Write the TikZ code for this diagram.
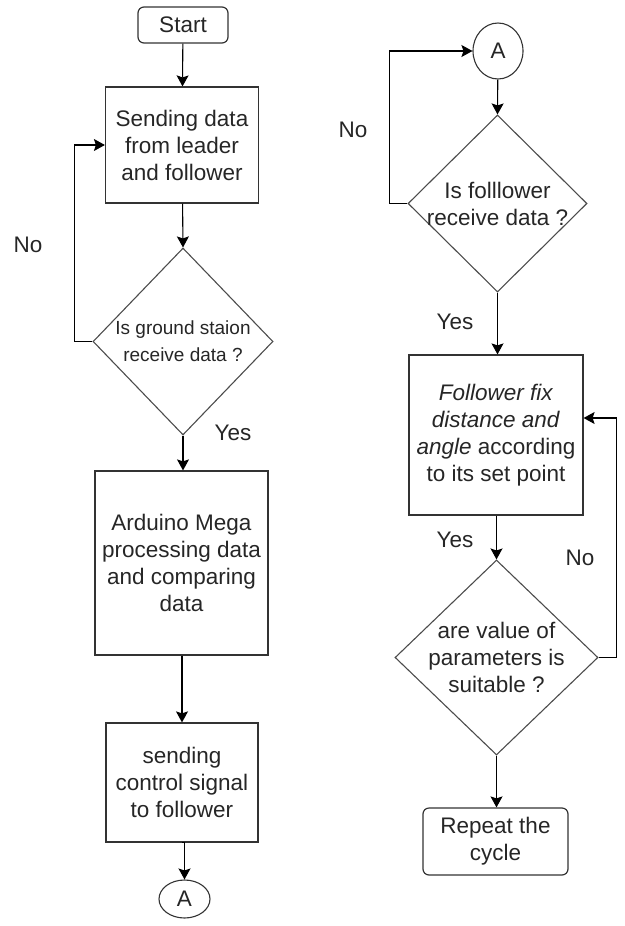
\documentclass[tikz,border=0pt]{standalone}
\usepackage{fontspec}
\setmainfont{Liberation Sans}
\usetikzlibrary{positioning, shapes.geometric, arrows.meta}

\tikzset{
    txt/.style={font=\fontsize{22.5}{27}\selectfont, text=black!85},
    proc/.style={draw=black!80, line width=1.2pt, rectangle, align=center, txt},
    term/.style={proc, rounded corners=6pt},
    conn/.style={draw=black!80, line width=1.1pt, ellipse, inner sep=0pt, txt},
    decision/.style={draw=black!70, line width=1.1pt, diamond, inner sep=0pt},
    dectext/.style={align=center, txt},
    flow/.style={line width=1.1pt, -{Stealth[length=11pt,width=12pt,inset=2pt]}},
}

\begin{document}
\begin{tikzpicture}[x=1pt, y=-1pt]
            \useasboundingbox (0,0) rectangle (624,926);

            % left column
            \node[term, minimum width=90, minimum height=36] (start) at (183,25) {Start};
            \node[proc, minimum width=153, minimum height=116] (send) at (182,145) {Sending data\\from leader\\and follower};
            \node[decision, minimum width=180, minimum height=187,
                  label={[dectext, font=\fontsize{19}{27}\selectfont]center:{Is ground staion\\receive data ?}}] (gs) at (183,341.5) {};
            \node[proc, minimum width=173, minimum height=184] (ardu) at (181.5,563) {Arduino Mega\\processing data\\and comparing\\data};
            \node[proc, minimum width=152, minimum height=119] (sig) at (182,782.5) {sending\\control signal\\to follower};
            \node[conn, minimum width=51, minimum height=38] (endA) at (184.5,899) {A};

            % right column
            \node[conn, minimum width=50, minimum height=56] (startA) at (498,51) {A};
            \node[decision, minimum width=179, minimum height=177,
                  label={[dectext]center:{Is folllower\\receive data ?}}] (fr) at (497.5,203.5) {};
            \node[proc, minimum width=174, minimum height=160] (fix) at (496,435)
                {\textit{Follower fix}\\\textit{distance and}\\\textit{angle} according\\to its set point};
            \node[decision, minimum width=203, minimum height=195,
                  label={[dectext]center:{are value of\\parameters is\\suitable ?}}] (suit) at (496.5,657.5) {};
            \node[term, minimum width=145, minimum height=67] (rep) at (495.5,841.5) {Repeat the\\cycle};

            % labels
            \node[txt] (no1) at (28,245) {No};
            \node[txt] (yes1) at (233,433) {Yes};
            \node[txt] (no2) at (353,130) {No};
            \node[txt] (yes2) at (455,322) {Yes};
            \node[txt] (yes3) at (455,540) {Yes};
            \node[txt] (no3) at (580,558) {No};

            % connectors
            \draw[flow] (start) -- (send);
            \draw[flow] (send) -- (gs.north);
            \draw[flow] (gs.west) -- ++(-18,0) |- (send.west);
            \draw[flow] (gs.south) -- (gs.south |- ardu.north);
            \draw[flow] (ardu.south -| sig.north) -- (sig.north);
            \draw[flow] (sig.south) -- (sig.south -| endA.north) -- (endA.north);

            \draw[flow] (startA) -- (fr.north);
            \draw[flow] (fr.west) -- ++(-18,0) |- (startA.west);
            \draw[flow] (fr.south) -- (fr.south |- fix.north);
            \draw[flow] (fix.south -| suit.north) -- (suit.north);
            \draw[flow] (suit.east) -- ++(18,0) |- ([yshift=17pt]fix.east);
            \draw[flow] (suit.south) -- (suit.south |- rep.north);
        \end{tikzpicture}
\end{document}
